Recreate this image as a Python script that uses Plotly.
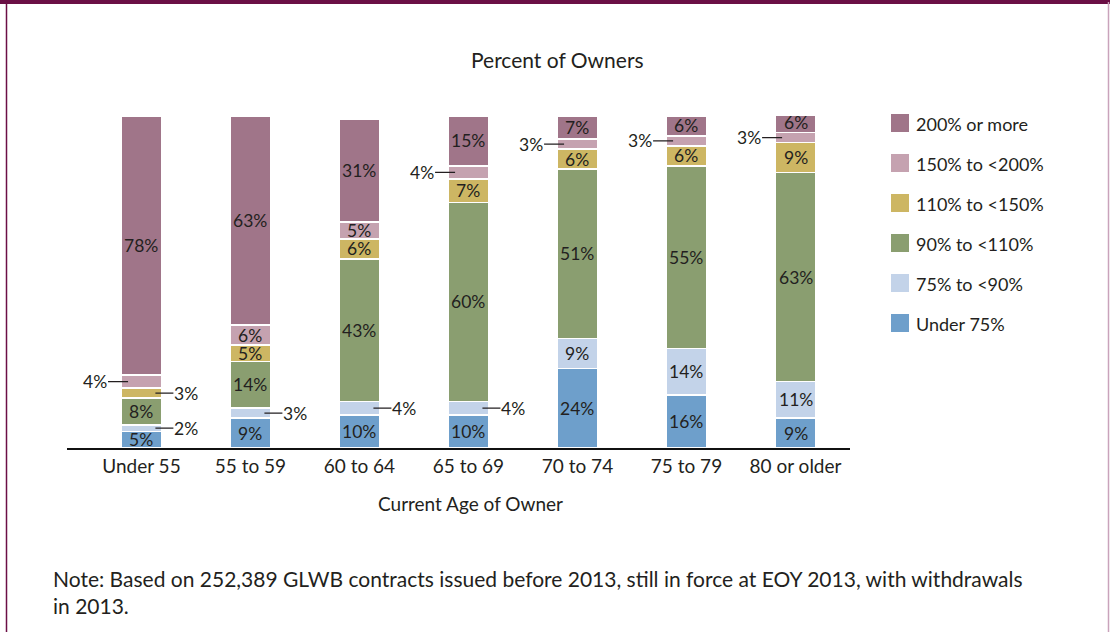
import plotly.graph_objects as go

categories = ["Under 55", "55 to 59", "60 to 64", "65 to 69", "70 to 74", "75 to 79", "80 or older"]
series_names = ["Under 75%", "75% to <90%", "90% to <110%", "110% to <150%", "150% to <200%", "200% or more"]
under75 = [5, 9, 10, 10, 24, 16, 9]
b75_90 = [2, 3, 4, 4, 9, 14, 11]
b90_110 = [8, 14, 43, 60, 51, 55, 63]
b110_150 = [3, 5, 6, 7, 6, 6, 9]
b150_200 = [4, 6, 5, 4, 3, 3, 3]
b200 = [78, 63, 31, 15, 7, 6, 6]
series_values = [under75, b75_90, b90_110, b110_150, b150_200, b200]
colors = ["#6E9FCB", "#C3D3E9", "#8A9E70", "#CDB663", "#C5A2B0", "#A07589"]

TXT = "#231F20"
FONT = "Lato"
W, H = 1110, 632
L, R, T, B = 67, 850, 116, 448  # plot area pixels
BW = 0.376

def px2x(px):
    return (px - L) / (R - L)

def px2y(py):
    return (B - py) / (B - T)

fig = go.Figure()
xs = list(range(len(categories)))
for name, vals, col in zip(series_names, series_values, colors):
    fig.add_trace(go.Bar(
        x=xs, y=vals, name=name, width=BW,
        marker=dict(color=col, line=dict(color="white", width=1.5)),
        showlegend=False, hoverinfo="skip",
    ))

annotations = []
# segment labels
for i in xs:
    base = 0
    for si, vals in enumerate(series_values):
        v = vals[i]
        mid = base + v / 2
        label = f"{v}%"
        if v > 4:
            annotations.append(dict(x=i, y=mid, xref="x", yref="y", text=label, showarrow=False,
                                    xanchor="center", yanchor="middle",
                                    font=dict(size=17.5, color=TXT, family=FONT)))
        else:
            left = (si == 4)
            if left:
                annotations.append(dict(x=i - BW / 2 + 0.065, y=mid, xref="x", yref="y", text=label,
                                        showarrow=True, arrowhead=0, arrowwidth=1.3, arrowcolor=TXT,
                                        ax=-20, ay=0, xanchor="right", yanchor="middle", borderpad=0,
                                        font=dict(size=17.5, color=TXT, family=FONT)))
            else:
                annotations.append(dict(x=i + BW / 2 - 0.06, y=mid, xref="x", yref="y", text=label,
                                        showarrow=True, arrowhead=0, arrowwidth=1.3, arrowcolor=TXT,
                                        ax=18, ay=0, xanchor="left", yanchor="middle", borderpad=0,
                                        font=dict(size=17.5, color=TXT, family=FONT)))
        base += v

# title, axis title, note
annotations.append(dict(x=px2x(557), y=px2y(60), xref="paper", yref="paper", text="Percent of Owners",
                        xanchor="center", yanchor="middle",
                        showarrow=False, font=dict(size=21, color=TXT, family=FONT)))
annotations.append(dict(x=px2x(470), y=px2y(503), xref="paper", yref="paper", text="Current Age of Owner",
                        xanchor="center", yanchor="middle",
                        showarrow=False, font=dict(size=19, color=TXT, family=FONT)))
annotations.append(dict(x=px2x(51), y=px2y(592), xref="paper", yref="paper", xanchor="left", yanchor="middle",
                        align="left",
                        text="Note: Based on 252,389 GLWB contracts issued before 2013, still in force at EOY 2013, with withdrawals<br>in 2013.",
                        showarrow=False, font=dict(size=21, color=TXT, family=FONT)))

# manual legend
shapes = []
legend_order = list(reversed(range(len(series_names))))
for k, si in enumerate(legend_order):
    cy = 123 + 40 * k
    shapes.append(dict(type="rect", xref="paper", yref="paper",
                       x0=px2x(891), x1=px2x(909), y0=px2y(cy - 9), y1=px2y(cy + 9),
                       fillcolor=colors[si], line=dict(width=0)))
    annotations.append(dict(x=px2x(914), y=px2y(cy + 1), xref="paper", yref="paper",
                            xanchor="left", yanchor="middle",
                            text=series_names[si], showarrow=False,
                            font=dict(size=18, color=TXT, family=FONT)))

# frame
shapes.append(dict(type="rect", xref="paper", yref="paper", x0=px2x(0), x1=px2x(W), y0=px2y(0), y1=px2y(4),
                   fillcolor="#6B0F45", line=dict(width=0), layer="above"))
shapes.append(dict(type="line", xref="paper", yref="paper", x0=px2x(6.5), x1=px2x(6.5), y0=px2y(2), y1=px2y(H),
                   line=dict(color="#6B0F45", width=1.5)))
shapes.append(dict(type="line", xref="paper", yref="paper", x0=px2x(1108.5), x1=px2x(1108.5), y0=px2y(2), y1=px2y(H),
                   line=dict(color="#C9A3BB", width=1.5)))

fig.update_layout(
    width=W, height=H,
    margin=dict(l=L, r=W - R, t=T, b=H - B),
    barmode="stack",
    plot_bgcolor="white", paper_bgcolor="white",
    font=dict(family=FONT, color=TXT),
    xaxis=dict(range=[-0.683, 6.5], tickvals=xs, ticktext=categories, showgrid=False, zeroline=False,
               showline=True, linecolor="#111111", linewidth=2, ticks="",
               tickfont=dict(size=19, color=TXT, family=FONT), fixedrange=True),
    yaxis=dict(range=[0, 100], visible=False, fixedrange=True),
    annotations=annotations,
    shapes=shapes,
)

fig.write_html("out.html", config={"displayModeBar": False},
               post_script="document.body.style.margin='0';document.body.style.overflow='hidden';")
